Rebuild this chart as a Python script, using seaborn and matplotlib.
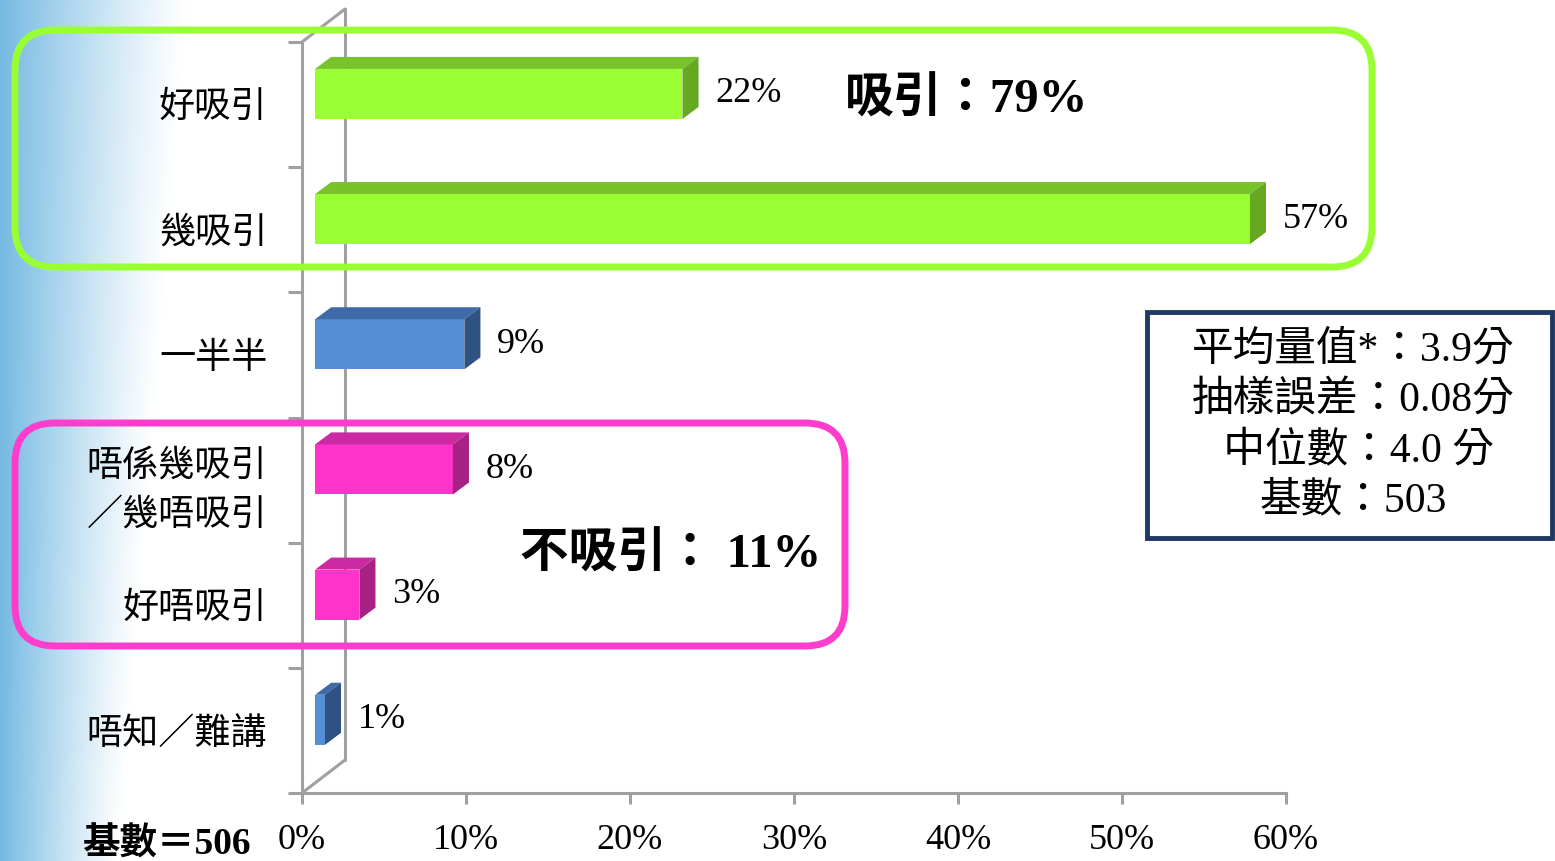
import numpy as np
import pandas as pd
import matplotlib.pyplot as plt
from matplotlib.patches import Polygon, Rectangle, FancyBboxPatch
import seaborn as sns

# data (percent)
categories = ['好吸引', '幾吸引', '一半半', '唔係幾吸引\n／幾唔吸引', '好唔吸引', '唔知／難講']
values = [22.4, 57.0, 9.1, 8.4, 2.7, 0.6]
value_labels = ['22%', '57%', '9%', '8%', '3%', '1%']
groups = ['attract', 'attract', 'neutral', 'not', 'not', 'neutral']
x_ticks = [0, 10, 20, 30, 40, 50, 60]

# colours: front, top, side
colors = {
    'attract': ('#99FF33', '#78C22A', '#66A822'),
    'neutral': ('#558ED5', '#3E6BA8', '#2E5282'),
    'not': ('#FF33CC', '#CC2AA2', '#A82285'),
}

sns.set_theme(style='white')
plt.rcParams['font.family'] = ['Liberation Serif', 'Noto Sans CJK TC', 'DejaVu Sans']
plt.rcParams['text.color'] = 'black'
plt.rcParams['xtick.color'] = 'black'
plt.rcParams['ytick.color'] = 'black'

W, H = 1555, 861
fig = plt.figure(figsize=(W / 100, H / 100), dpi=100)

# background: faded blue strip on the left
bg = fig.add_axes([0, 0, 1, 1], zorder=-2)
bg.set_xlim(0, W)
bg.set_ylim(H, 0)
bg.axis('off')
xx, yy = np.meshgrid(np.arange(220), np.arange(H))
edge = 190 - 70 * (yy / H)
alpha = np.clip(1 - xx / edge, 0, 1) ** 1.2 * 0.85
img = np.zeros((H, 220, 4))
img[..., 0], img[..., 1], img[..., 2] = 0.36, 0.68, 0.87
img[..., 3] = alpha
bg.imshow(img, extent=(0, 220, H, 0), aspect='auto', interpolation='bilinear')

# main axes, 0%..60% between px 302 and 1286, bands between px 42 and 793
ax = fig.add_axes([302 / W, 1 - 793 / H, (1286 - 302) / W, (793 - 42) / H])
ax.patch.set_alpha(0)

df = pd.DataFrame({'cat': categories, 'val': values, 'grp': groups})
front = [colors[g][0] for g in groups]
sns.barplot(data=df, x='val', y='cat', hue='cat', palette=front, legend=False,
            orient='h', width=0.4, saturation=1, ax=ax, zorder=3)

# 3D look: push front faces in a bit and add top / side faces
off_x, off_y = 0.8, -0.085      # front face shift (x in %, y in bands)
dx, dy = 0.98, -0.096           # depth of the bar
for i, p in enumerate(ax.patches):
    v = values[i]
    y0 = i + off_y - 0.2
    p.set_x(off_x)
    p.set_y(y0)
    p.set_edgecolor('none')
    top = [(off_x, y0), (off_x + dx, y0 + dy), (off_x + v + dx, y0 + dy), (off_x + v, y0)]
    side = [(off_x + v, y0), (off_x + v + dx, y0 + dy), (off_x + v + dx, y0 + 0.4 + dy), (off_x + v, y0 + 0.4)]
    ax.add_patch(Polygon(top, closed=True, fc=colors[groups[i]][1], ec='none', zorder=3))
    ax.add_patch(Polygon(side, closed=True, fc=colors[groups[i]][2], ec='none', zorder=3))
    ax.text(off_x + v + dx + 1.0, i + off_y, value_labels[i], va='center', ha='left',
            fontsize=26)

ax.set_xlim(0, 60)
ax.set_ylim(5.5, -0.5)
ax.set_xticks(x_ticks)
ax.set_xticklabels([f'{t}%' for t in x_ticks], fontsize=26)
ax.set_yticks(range(len(categories)))
ax.set_yticklabels(categories, fontsize=26, linespacing=1.55)
ax.set_yticks(np.arange(-0.5, 6, 1), minor=True)
ax.set(xlabel=None, ylabel=None)
ax.tick_params(axis='y', which='major', length=0, pad=25)
ax.tick_params(axis='y', which='minor', length=10, width=2.2, color='#A0A0A0', left=True)
ax.tick_params(axis='x', length=8, width=2.2, color='#A0A0A0', bottom=True, pad=14)
for s in ['top', 'right']:
    ax.spines[s].set_visible(False)
for s in ['left', 'bottom']:
    ax.spines[s].set_color('#A0A0A0')
    ax.spines[s].set_linewidth(2.2)

# back wall of the 3D frame
wx = 43 / 16.4
wy = 33 / 125.2
ax.plot([wx, wx], [-0.5 - wy, 5.5 - wy], color='#A0A0A0', lw=2.2, clip_on=False, zorder=1)
ax.plot([0, wx], [5.5, 5.5 - wy], color='#A0A0A0', lw=2.2, clip_on=False, zorder=1)
ax.plot([0, wx], [-0.5, -0.5 - wy], color='#A0A0A0', lw=2.2, clip_on=False, zorder=1)

# overlay in pixel coordinates for boxes and notes
ov = fig.add_axes([0, 0, 1, 1], zorder=5)
ov.set_xlim(0, W)
ov.set_ylim(H, 0)
ov.axis('off')
ov.patch.set_alpha(0)

ov.add_patch(FancyBboxPatch((15, 30), 1357, 237, boxstyle='round,pad=0,rounding_size=40',
                            fc='none', ec='#99FF33', lw=5))
ov.add_patch(FancyBboxPatch((15, 423), 830, 223, boxstyle='round,pad=0,rounding_size=40',
                            fc='none', ec='#FF3DCC', lw=5))

ov.text(845, 100, '吸引：79%', fontsize=35, fontweight='bold', ha='left', va='center')
ov.text(520, 555, '不吸引： 11%', fontsize=35, fontweight='bold', ha='left', va='center')
ov.text(82, 845, '基數＝506', fontsize=27, fontweight='bold', ha='left', va='center')

ov.add_patch(Rectangle((1147, 312), 405, 226, fc='white', ec='#1F3864', lw=3.5))
stats = ['平均量值*：3.9分', '抽樣誤差：0.08分', ' 中位數：4.0 分', '基數：503']
for k, line in enumerate(stats):
    ov.text(1353, 350 + 50.5 * k, line, fontsize=30, ha='center', va='center')

plt.savefig('out.png', dpi=100)
